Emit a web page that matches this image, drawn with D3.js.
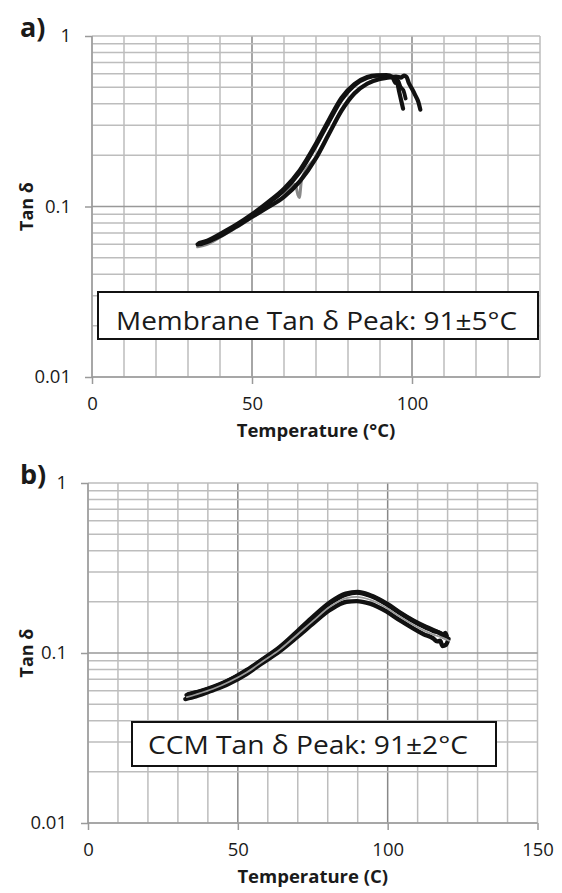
<!DOCTYPE html>
<html>
<head>
<meta charset="utf-8">
<script src="https://cdn.jsdelivr.net/npm/d3@7/dist/d3.min.js"></script>
<style>
  html, body { margin: 0; padding: 0; background: #fff; }
  svg { display: block; }
  text { font-family: "Open Sans", "Noto Sans", sans-serif; fill: #1a1a1a; }
</style>
</head>
<body>
<svg id="chart" width="562" height="893"></svg>
<script>
// ---- data -------------------------------------------------------------
const tanDeltaTicks = [0.01, 0.1, 1];
const memTempTicks = [0, 50, 100];
const ccmTempTicks = [0, 50, 100, 150];

// a) membrane samples
const memT1 = [33.5, 36, 40, 45, 50, 55, 60, 65, 70, 74, 78, 82, 86, 89, 92, 94, 95.3, 96, 96.6, 97.2];
const memV1 = [0.061, 0.063, 0.069, 0.078, 0.090, 0.106, 0.127, 0.164, 0.234, 0.322, 0.435, 0.522, 0.574, 0.588, 0.59, 0.575, 0.54, 0.47, 0.42, 0.375];
const memT2 = [33, 36, 40, 45, 50, 55, 60, 65, 70, 74, 78, 82, 86, 90, 93, 95, 96.5, 97.5, 98.3, 99, 100, 101, 102, 102.6];
const memV2 = [0.060, 0.062, 0.067, 0.076, 0.087, 0.099, 0.114, 0.141, 0.192, 0.265, 0.365, 0.46, 0.525, 0.56, 0.572, 0.578, 0.57, 0.585, 0.575, 0.53, 0.49, 0.45, 0.41, 0.37];
const memT3 = [33, 36, 40, 45, 50, 55, 60, 63.5, 64.3, 64.8, 65.5, 70, 74, 78, 82, 86, 90, 93, 95, 96];
const memV3 = [0.058, 0.060, 0.066, 0.075, 0.086, 0.099, 0.115, 0.135, 0.118, 0.113, 0.144, 0.196, 0.27, 0.372, 0.466, 0.53, 0.565, 0.575, 0.56, 0.52];
const memT4 = [34, 38, 42, 46, 50, 55, 60, 65, 70, 74, 78, 82, 86, 90, 93, 94, 94.8, 95.5, 96.5, 97.3, 98];
const memV4 = [0.060, 0.065, 0.071, 0.079, 0.089, 0.104, 0.124, 0.159, 0.227, 0.312, 0.422, 0.512, 0.567, 0.585, 0.58, 0.565, 0.53, 0.55, 0.5, 0.48, 0.43];

// b) CCM samples
const ccmT1 = [32.9, 36, 41.8, 47, 52.9, 58, 64.1, 70, 75.2, 80.7, 86.3, 89.6, 94.1, 99.7, 104, 108.5, 112, 115.2, 117.5, 118.5, 119.2, 119.7];
const ccmV1 = [0.0566, 0.0585, 0.0628, 0.069, 0.0785, 0.0905, 0.1074, 0.133, 0.1614, 0.196, 0.2215, 0.2264, 0.217, 0.193, 0.172, 0.154, 0.143, 0.135, 0.131, 0.125, 0.131, 0.126];
const ccmT2 = [32.5, 36, 41.8, 47, 52.9, 58, 64.1, 70, 75.2, 80.7, 86.3, 89.6, 94.1, 99.7, 104, 108.5, 112, 115.2, 116.5, 117.5, 118.3, 119.5, 120.3];
const ccmV2 = [0.0536, 0.0555, 0.0605, 0.066, 0.0752, 0.0868, 0.1028, 0.125, 0.1495, 0.179, 0.2003, 0.202, 0.195, 0.175, 0.156, 0.1397, 0.129, 0.122, 0.117, 0.118, 0.11, 0.112, 0.121];
const ccmT3 = [33, 36, 41.8, 47, 52.9, 58, 64.1, 70, 75.2, 80.7, 86.3, 89.6, 94.1, 99.7, 104, 108.5, 112, 115.2, 118, 120.5];
const ccmV3 = [0.055, 0.057, 0.0616, 0.0675, 0.0768, 0.0886, 0.105, 0.129, 0.155, 0.187, 0.2106, 0.2138, 0.2057, 0.1838, 0.1638, 0.1467, 0.1358, 0.1284, 0.1235, 0.118];
const ccmT4 = [33.5, 37, 42, 48, 53, 58, 64, 70, 75, 81, 86, 90, 94, 100, 104, 108.5, 112, 115, 117, 118.5, 119];
const ccmV4 = [0.0572, 0.0592, 0.0634, 0.0705, 0.0795, 0.0912, 0.1085, 0.135, 0.163, 0.2, 0.2235, 0.2285, 0.2195, 0.194, 0.1735, 0.1555, 0.1445, 0.137, 0.132, 0.128, 0.124];

const zip = (ts, vs) => ts.map((t, i) => ({ t, v: vs[i] }));

// ---- drawing ----------------------------------------------------------
const svg = d3.select("#chart");

function drawPanel(p) {
  const x = d3.scaleLinear().domain([0, p.xMax]).range([p.left, p.right]);
  const y = d3.scaleLog().domain([0.01, 1]).range([p.bottom, p.top]);
  const g = svg.append("g");

  // grid
  const grid = g.append("g");
  grid.selectAll("line.vx").data(d3.range(0, p.xMax + 1, 10)).join("line")
    .attr("x1", d => x(d)).attr("x2", d => x(d))
    .attr("y1", p.top).attr("y2", p.bottom)
    .attr("stroke", d => (d % 50 === 0 && d !== 0 && d !== p.xMax) ? "#888" : "#bdbdbd")
    .attr("stroke-width", 1.5);
  grid.selectAll("line.hy").data(y.ticks()).join("line")
    .attr("x1", p.left).attr("x2", p.right)
    .attr("y1", d => y(d)).attr("y2", d => y(d))
    .attr("stroke", d => d === 0.1 ? "#999" : "#bdbdbd")
    .attr("stroke-width", 1.5);
  // axis frame lines
  g.append("line").attr("x1", p.left).attr("x2", p.left).attr("y1", p.top).attr("y2", p.bottom)
    .attr("stroke", "#9a9a9a").attr("stroke-width", 1.5);
  g.append("line").attr("x1", p.left).attr("x2", p.right).attr("y1", p.bottom).attr("y2", p.bottom)
    .attr("stroke", "#9a9a9a").attr("stroke-width", 1.5);

  // axes
  const yAxis = d3.axisLeft(y).tickValues(tanDeltaTicks).tickSize(7).tickPadding(14)
    .tickFormat(d3.format("~g"));
  const ya = g.append("g").attr("transform", `translate(${p.left},0)`).call(yAxis);
  const xAxis = d3.axisBottom(x).tickValues(p.xTicks).tickSize(7).tickPadding(13)
    .tickFormat(d3.format("d"));
  const xa = g.append("g").attr("transform", `translate(0,${p.bottom})`).call(xAxis);
  [ya, xa].forEach(a => {
    a.select(".domain").remove();
    a.selectAll(".tick line").attr("stroke", "#9a9a9a").attr("stroke-width", 1.5);
    a.selectAll(".tick text").attr("font-size", 18.5).attr("font-family", "Open Sans").attr("fill", "#1a1a1a");
  });

  // curves: black samples first, grey sample threaded on top
  const line = d3.line().x(d => x(d.t)).y(d => y(d.v)).curve(d3.curveMonotoneX);
  p.series.forEach(s => {
    g.append("path").attr("d", line(s.data)).attr("fill", "none")
      .attr("stroke", s.color).attr("stroke-width", s.width)
      .attr("stroke-linejoin", "round").attr("stroke-linecap", "round");
  });

  // annotation box
  g.append("rect").attr("x", p.box[0]).attr("y", p.box[1])
    .attr("width", p.box[2]).attr("height", p.box[3])
    .attr("fill", "#fff").attr("stroke", "#111").attr("stroke-width", 2);
  g.append("text").attr("x", p.boxText[0]).attr("y", p.boxText[1])
    .attr("font-size", 25).text(p.note)
    .attr("textLength", p.boxText[2]).attr("lengthAdjust", "spacingAndGlyphs");

  // titles
  g.append("text").attr("x", 20).attr("y", p.top + 1).attr("font-size", 27)
    .attr("font-weight", 700).text(p.tag);
  g.append("text").attr("transform", `translate(33,${(p.top + p.bottom) / 2}) rotate(-90)`)
    .attr("text-anchor", "middle").attr("font-size", 18).attr("font-weight", 700).text("Tan δ");
  g.append("text").attr("x", (p.left + p.right) / 2).attr("y", p.bottom + 60)
    .attr("text-anchor", "middle").attr("font-size", 18.5).attr("font-weight", 700).text(p.xTitle);
}

drawPanel({
  tag: "a)", xMax: 140, xTicks: memTempTicks,
  left: 92, right: 540, top: 36, bottom: 377,
  xTitle: "Temperature (°C)",
  note: "Membrane Tan δ Peak: 91±5°C",
  box: [98, 292, 440, 47], boxText: [116, 330, 401],
  series: [
    { data: zip(memT3, memV3), color: "#8a8a8a", width: 3 },
    { data: zip(memT2, memV2), color: "#111", width: 4.2 },
    { data: zip(memT4, memV4), color: "#111", width: 3.8 },
    { data: zip(memT1, memV1), color: "#111", width: 4.2 }
  ]
});

drawPanel({
  tag: "b)", xMax: 150, xTicks: ccmTempTicks,
  left: 88, right: 537.5, top: 483, bottom: 823,
  xTitle: "Temperature (C)",
  note: "CCM Tan δ Peak: 91±2°C",
  box: [132, 722, 364, 44], boxText: [148, 754, 320],
  series: [
    { data: zip(ccmT1, ccmV1), color: "#111", width: 4.4 },
    { data: zip(ccmT4, ccmV4), color: "#111", width: 4.4 },
    { data: zip(ccmT2, ccmV2), color: "#111", width: 4.4 },
    { data: zip(ccmT3, ccmV3), color: "#9a9a9a", width: 1.8 }
  ]
});
</script>
</body>
</html>
